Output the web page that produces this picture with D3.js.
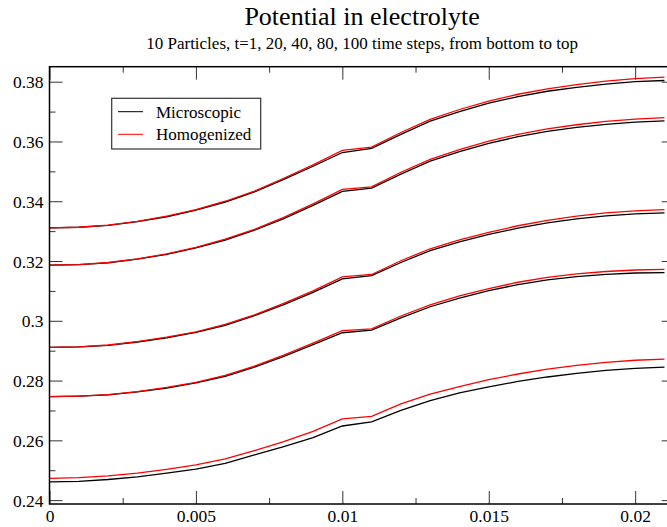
<!DOCTYPE html>
<html>
<head>
<meta charset="utf-8">
<script src="https://cdn.jsdelivr.net/npm/d3@7"></script>
<style>
  body { margin: 0; background: #fff; }
  svg { display: block; font-family: "Liberation Serif", "Times New Roman", serif; }
  svg text { font-family: "Liberation Serif", "Times New Roman", serif; }
</style>
</head>
<body>
<svg id="chart" width="667" height="527"></svg>
<script>
// x positions of the samples
var xs = [0, 0.001, 0.002, 0.003, 0.004, 0.005, 0.006, 0.007, 0.008, 0.009, 0.010,
  0.011, 0.012, 0.013, 0.014, 0.015, 0.016, 0.017, 0.018, 0.019, 0.020, 0.021];

// homogenized (red), t=1 .. t=100 from bottom to top
var hom1 = [0.2473, 0.2475, 0.2481, 0.2490, 0.2503, 0.2518, 0.2538, 0.2566, 0.2596, 0.2630, 0.2672,
  0.2680, 0.2722, 0.2755, 0.2780, 0.2803, 0.2822, 0.2838, 0.2851, 0.2861, 0.2868, 0.2872];
var hom2 = [0.2746, 0.2748, 0.2753, 0.2763, 0.2777, 0.2794, 0.2817, 0.2848, 0.2885, 0.2925, 0.2967,
  0.2973, 0.3016, 0.3053, 0.3083, 0.3108, 0.3129, 0.3145, 0.3157, 0.3165, 0.3170, 0.3172];
var hom3 = [0.2911, 0.2913, 0.2919, 0.2930, 0.2945, 0.2963, 0.2988, 0.3020, 0.3058, 0.3100, 0.3147,
  0.3155, 0.3201, 0.3241, 0.3271, 0.3296, 0.3318, 0.3336, 0.3350, 0.3361, 0.3368, 0.3372];
var hom4 = [0.3186, 0.3188, 0.3195, 0.3207, 0.3224, 0.3246, 0.3273, 0.3306, 0.3346, 0.3391, 0.3440,
  0.3448, 0.3497, 0.3540, 0.3573, 0.3601, 0.3624, 0.3642, 0.3656, 0.3667, 0.3675, 0.3680];
var hom5 = [0.3311, 0.3313, 0.3320, 0.3333, 0.3350, 0.3372, 0.3400, 0.3434, 0.3477, 0.3522, 0.3570,
  0.3581, 0.3630, 0.3674, 0.3707, 0.3735, 0.3758, 0.3776, 0.3790, 0.3802, 0.3810, 0.3815];

// microscopic (black)
var mic1 = [0.2461, 0.2463, 0.2469, 0.2478, 0.2490, 0.2504, 0.2523, 0.2551, 0.2579, 0.2609, 0.2648,
  0.2662, 0.2700, 0.2733, 0.2759, 0.2779, 0.2797, 0.2812, 0.2824, 0.2834, 0.2841, 0.2845];
var mic2 = [0.2746, 0.2748, 0.2752, 0.2762, 0.2775, 0.2792, 0.2814, 0.2845, 0.2881, 0.2920, 0.2960,
  0.2969, 0.3010, 0.3047, 0.3076, 0.3101, 0.3121, 0.3137, 0.3148, 0.3155, 0.3160, 0.3161];
var mic3 = [0.2911, 0.2913, 0.2918, 0.2929, 0.2943, 0.2961, 0.2985, 0.3017, 0.3054, 0.3095, 0.3140,
  0.3151, 0.3195, 0.3235, 0.3264, 0.3289, 0.3310, 0.3328, 0.3341, 0.3351, 0.3358, 0.3361];
var mic4 = [0.3186, 0.3188, 0.3194, 0.3206, 0.3222, 0.3244, 0.3270, 0.3303, 0.3342, 0.3386, 0.3433,
  0.3444, 0.3491, 0.3534, 0.3566, 0.3594, 0.3616, 0.3634, 0.3647, 0.3657, 0.3665, 0.3669];
var mic5 = [0.3311, 0.3313, 0.3319, 0.3332, 0.3348, 0.3370, 0.3397, 0.3431, 0.3473, 0.3517, 0.3563,
  0.3577, 0.3624, 0.3668, 0.3700, 0.3728, 0.3750, 0.3768, 0.3781, 0.3792, 0.3800, 0.3804];

var xMajor = [0, 0.005, 0.01, 0.015, 0.02];
var xMinor = [0.0025, 0.0075, 0.0125, 0.0175];
var yMajor = [0.24, 0.26, 0.28, 0.30, 0.32, 0.34, 0.36, 0.38];
var yMinor = [0.25, 0.27, 0.29, 0.31, 0.33, 0.35, 0.37];

var legendItems = [
  { label: "Microscopic", color: "#000" },
  { label: "Homogenized", color: "#ff0000" }
];

var svg = d3.select("#chart");

// plot frame (right edge falls just outside the picture)
var plotL = 49.5, plotR = 674.7, plotT = 66.7, plotB = 504;

var x = d3.scaleLinear().domain([0, 0.02135]).range([plotL, plotR]);
var y = d3.scaleLinear().domain([0.2387, 0.38502]).range([plotB, plotT]);

var fmt = function (d) { return String(+d.toFixed(3)); };

svg.append("text")
  .attr("x", (plotL + plotR) / 2).attr("y", 25)
  .attr("text-anchor", "middle")
  .style("font-size", "26px")
  .text("Potential in electrolyte");

svg.append("text")
  .attr("x", (plotL + plotR) / 2).attr("y", 49)
  .attr("text-anchor", "middle")
  .style("font-size", "17px")
  .text("10 Particles, t=1, 20, 40, 80, 100 time steps, from bottom to top");

// curves
var line = d3.line()
  .x(function (d, i) { return x(xs[i]); })
  .y(function (d) { return y(d); });

var g = svg.append("g");
[mic1, mic2, mic3, mic4, mic5].forEach(function (s) {
  g.append("path").attr("d", line(s))
    .attr("fill", "none").attr("stroke", "#000").attr("stroke-width", 1.3);
});
[hom1, hom2, hom3, hom4, hom5].forEach(function (s) {
  g.append("path").attr("d", line(s))
    .attr("fill", "none").attr("stroke", "#ff0000").attr("stroke-width", 1.3);
});

// axes, ticks pointing inwards on all four sides
function tickAxis(axis, pos, values, size, labels) {
  var a = svg.append("g")
    .attr("transform", pos)
    .call(axis.tickValues(values).tickSize(size).tickFormat(labels ? fmt : ""));
  a.attr("font-family", null);
  a.select(".domain").remove();
  a.selectAll(".tick line").attr("stroke", "#333").attr("stroke-width", 1);
  return a;
}

var bx = tickAxis(d3.axisBottom(x), "translate(0," + plotB + ")", xMajor, -13, true);
tickAxis(d3.axisBottom(x), "translate(0," + plotB + ")", xMinor, -6, false);
tickAxis(d3.axisTop(x), "translate(0," + plotT + ")", xMajor, -13, false);
tickAxis(d3.axisTop(x), "translate(0," + plotT + ")", xMinor, -6, false);
var ly = tickAxis(d3.axisLeft(y), "translate(" + plotL + ",0)", yMajor, -13, true);
tickAxis(d3.axisLeft(y), "translate(" + plotL + ",0)", yMinor, -6, false);
tickAxis(d3.axisRight(y), "translate(" + plotR + ",0)", yMajor, -13, false);
tickAxis(d3.axisRight(y), "translate(" + plotR + ",0)", yMinor, -6, false);

bx.selectAll(".tick text")
  .attr("y", 17.7).attr("dy", null)
  .style("font-size", "17.5px").attr("fill", "#000");
ly.selectAll(".tick text")
  .attr("x", -6).attr("dy", "0.35em")
  .style("font-size", "17.5px").attr("fill", "#000");

svg.append("rect")
  .attr("x", plotL).attr("y", plotT)
  .attr("width", plotR - plotL).attr("height", plotB - plotT)
  .attr("fill", "none").attr("stroke", "#000").attr("stroke-width", 1.5);

// legend
var lg = svg.append("g").attr("transform", "translate(111.7,98.3)");
lg.append("rect")
  .attr("width", 149).attr("height", 50.7)
  .attr("fill", "#fff").attr("stroke", "#333").attr("stroke-width", 1.2);
legendItems.forEach(function (it, i) {
  var yy = 13.4 + i * 22.6;
  lg.append("line")
    .attr("x1", 6.3).attr("x2", 31.3).attr("y1", yy).attr("y2", yy)
    .attr("stroke", it.color).attr("stroke-width", 1);
  lg.append("text")
    .attr("x", 44.3).attr("y", yy).attr("dy", "0.35em")
    .style("font-size", "17px")
    .text(it.label);
});
</script>
</body>
</html>
